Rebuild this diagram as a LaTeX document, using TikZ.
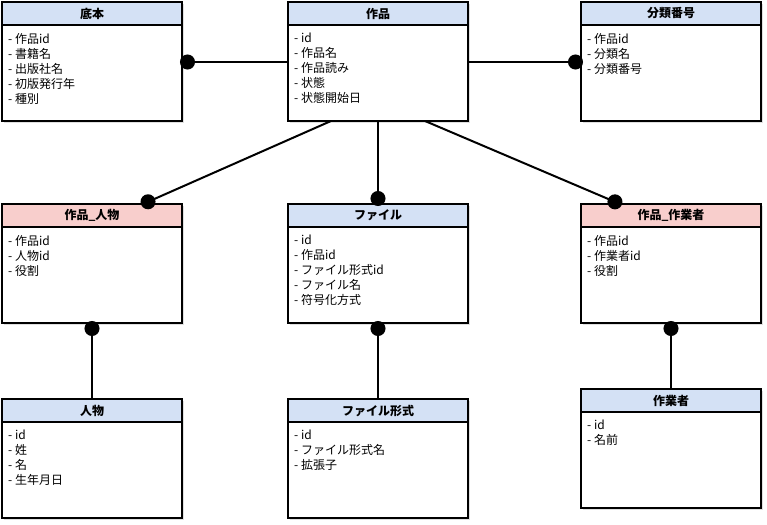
\documentclass[tikz,border=0pt]{standalone}
\usepackage{fontspec}
\setmainfont{Noto Sans CJK JP}
\usepackage{tikz}
\usepackage{xcolor}
\usetikzlibrary{positioning,shadows,arrows.meta}
\definecolor{headblue}{RGB}{212,225,245}
\definecolor{headpink}{RGB}{248,206,204}

\begin{document}
\begin{tikzpicture}[x=1pt, y=1pt,
				head/.style={rectangle, draw, line width=1.5pt, fill=headblue, minimum width=180pt, minimum height=23pt, outer sep=0pt, inner sep=0pt, font=\fontsize{12}{14}\selectfont\bfseries, drop shadow={shadow xshift=2pt, shadow yshift=-2pt, opacity=0.25}},
				linkhead/.style={head, fill=headpink},
				body/.style={rectangle, draw, line width=1.5pt, fill=white, minimum width=180pt, minimum height=96pt, outer sep=0pt, drop shadow={shadow xshift=2pt, shadow yshift=-2pt, opacity=0.25}},
				attr/.style={inner sep=0pt, align=left, font=\fontsize{12}{15}\selectfont},
				link/.style={line width=2pt, -{Circle[length=15pt]}, shorten >=-2pt},
				rlink/.style={line width=2pt, {Circle[length=15pt]}-, shorten <=-2pt}]
				\useasboundingbox (0,0) rectangle (767,524);
				
				% top row
				\node[head] (h1) at (92,510.5) {底本};
				\node[body, below=0pt of h1] (b1) {};
				\node[attr, below right=8pt and 6pt of b1.north west] (t1) {- 作品id\\- 書籍名\\- 出版社名\\- 初版発行年\\- 種別};
				\node[head, right=106pt of h1] (h2) {作品};
				\node[body, below=0pt of h2] (b2) {};
				\node[attr, below right=8pt and 6pt of b2.north west] (t2) {- id\\- 作品名\\- 作品読み\\- 状態\\- 状態開始日};
				\node[head, right=113pt of h2] (h3) {分類番号};
				\node[body, below=0pt of h3] (b3) {};
				\node[attr, below right=8pt and 6pt of b3.north west] (t3) {- 作品id\\- 分類名\\- 分類番号};
				
				% middle row
				\node[linkhead, below=83pt of b1] (h4) {作品\_人物};
				\node[body, below=0pt of h4] (b4) {};
				\node[attr, below right=8pt and 6pt of b4.north west] (t4) {- 作品id\\- 人物id\\- 役割};
				\node[head, below=83pt of b2] (h5) {ファイル};
				\node[body, below=0pt of h5] (b5) {};
				\node[attr, below right=8pt and 6pt of b5.north west] (t5) {- id\\- 作品id\\- ファイル形式id\\- ファイル名\\- 符号化方式};
				\node[linkhead, below=83pt of b3] (h6) {作品\_作業者};
				\node[body, below=0pt of h6] (b6) {};
				\node[attr, below right=8pt and 6pt of b6.north west] (t6) {- 作品id\\- 作業者id\\- 役割};
				
				% bottom row
				\node[head, below=76pt of b4] (h7) {人物};
				\node[body, below=0pt of h7] (b7) {};
				\node[attr, below right=8pt and 6pt of b7.north west] (t7) {- id\\- 姓\\- 名\\- 生年月日};
				\node[head, below=76pt of b5] (h8) {ファイル形式};
				\node[body, below=0pt of h8] (b8) {};
				\node[attr, below right=8pt and 6pt of b8.north west] (t8) {- id\\- ファイル形式名\\- 拡張子};
				\node[head, below=66pt of b6] (h9) {作業者};
				\node[body, below=0pt of h9] (b9) {};
				\node[attr, below right=8pt and 6pt of b9.north west] (t9) {- id\\- 名前};
				
				\draw[link] ([yshift=11pt]b2.west) -- ([yshift=11pt]b1.east);
				\draw[link] ([yshift=11pt]b2.east) -- ([yshift=11pt]b3.west);
				\draw[link] ([xshift=-47pt]b2.south) -- ([xshift=51pt]h4.north);
				\draw[link] (b2.south) -- (h5.north);
				\draw[link] ([xshift=47pt]b2.south) -- ([xshift=-51pt]h6.north);
				\draw[rlink] (b4.south) -- (h7.north);
				\draw[rlink] (b5.south) -- (h8.north);
				\draw[rlink] (b6.south) -- (h9.north);
			\end{tikzpicture}
\end{document}
